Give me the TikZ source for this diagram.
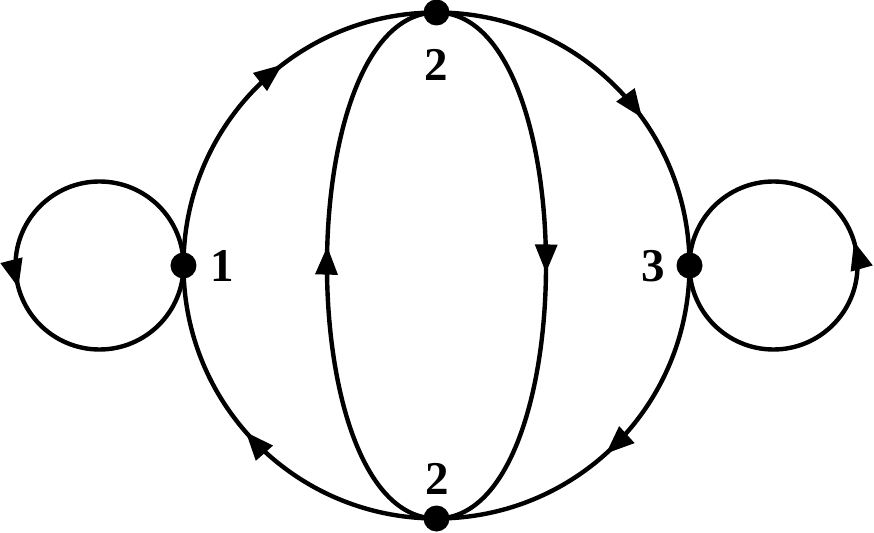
\documentclass[tikz,border=0pt]{standalone}
\usepackage{fontspec}
\setmainfont{Liberation Serif}
\usetikzlibrary{decorations.markings}

\begin{document}
\begin{tikzpicture}[x=1pt, y=1pt, line width=4.4pt,
	vertex/.style={circle, fill, inner sep=0pt, minimum size=26pt},
	num/.style={font=\fontsize{47}{50}\selectfont\bfseries, inner sep=0pt},
	flow/.style={postaction={decorate, decoration={markings,
		mark=at position #1 with {\fill[line width=0pt] (-27pt,11.5pt) -- (1pt,0pt) -- (-27pt,-11.5pt) -- cycle;}}}}]
	\def \radius {253}
	\def \loopr {84}

	\useasboundingbox (-436.5,-266.5) rectangle (437.5,265.5);

	\node[vertex] (one)    at (180:\radius) {};
	\node[vertex] (twotop) at (90:\radius)  {};
	\node[vertex] (three)  at (0:\radius)   {};
	\node[vertex] (twobot) at (270:\radius) {};

	\node[num] (lone)    at (-214.5,0)   {1};
	\node[num] (ltwotop) at (0,200.5)    {2};
	\node[num] (lthree)  at (216.5,-1)   {3};
	\node[num] (ltwobot) at (0.5,-213.5) {2};

	% outer circle
	\draw[flow=0.58] (one.center) to[out=90, in=180] (twotop.center);
	\draw[flow=0.60] (twotop.center) to[out=0, in=90] (three.center);
	\draw[flow=0.53] (three.center) to[out=270, in=0] (twobot.center);
	\draw[flow=0.54] (twobot.center) to[out=180, in=270] (one.center);

	% inner arcs
	\draw[flow=0.53] (twobot.center) to[out=180, in=180, looseness=0.74] (twotop.center);
	\draw[flow=0.51] (twotop.center) to[out=0, in=0, looseness=0.74] (twobot.center);

	% loops
	\draw[flow=0.54] (one.center) arc[start angle=0, end angle=360, radius=\loopr];
	\draw[flow=0.544] (three.center) arc[start angle=180, end angle=540, radius=\loopr];
\end{tikzpicture}
\end{document}
